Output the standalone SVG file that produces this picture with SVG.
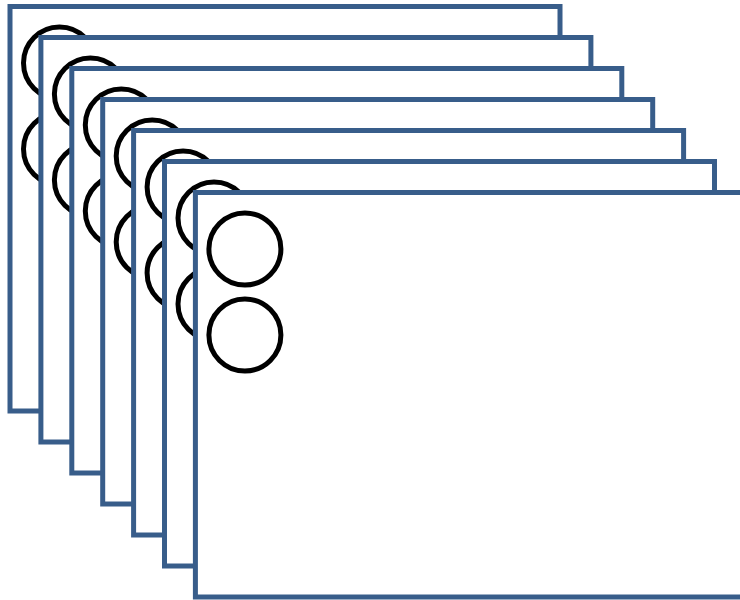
<svg xmlns="http://www.w3.org/2000/svg" width="740" height="600" viewBox="0 0 740 600">
<style>
.card{fill:#fff;stroke:#385D8A;stroke-width:5}
.dot{fill:none;stroke:#000;stroke-width:5}
</style>
<defs>
<g id="slide">
<rect class="card" x="0" y="0" width="550" height="404.5"/>
<circle class="dot" cx="49.5" cy="56.5" r="36"/>
<circle class="dot" cx="49.5" cy="142.5" r="36"/>
</g>
</defs>
<rect width="740" height="600" fill="#fff"/>
<g id="slide1"><use href="#slide" x="10" y="6.5"/></g>
<g id="slide2"><use href="#slide" x="40.9" y="37.5"/></g>
<g id="slide3"><use href="#slide" x="71.8" y="68.5"/></g>
<g id="slide4"><use href="#slide" x="102.7" y="99.5"/></g>
<g id="slide5"><use href="#slide" x="133.6" y="130.5"/></g>
<g id="slide6"><use href="#slide" x="164.5" y="161.5"/></g>
<g id="slide7"><use href="#slide" x="195.4" y="192.5"/></g>
<g id="connectors"/>
</svg>
